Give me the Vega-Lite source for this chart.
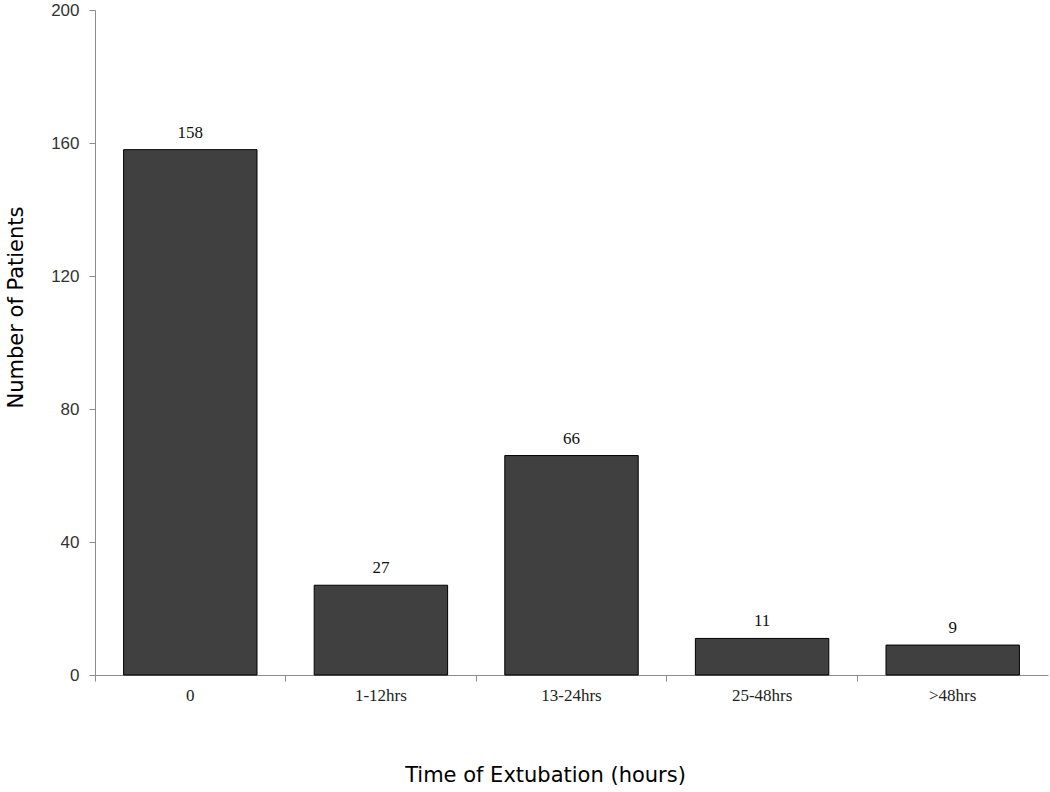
{
  "$schema": "https://vega.github.io/schema/vega-lite/v6.json",
  "width": 953,
  "height": 665,
  "autosize": {"type": "none"},
  "padding": {"left": 95, "top": 10, "right": 2, "bottom": 117},
  "background": "white",
  "config": {"view": {"stroke": null}},
  "data": {"values": [
    {"time": "0", "patients": 158},
    {"time": "1-12hrs", "patients": 27},
    {"time": "13-24hrs", "patients": 66},
    {"time": "25-48hrs", "patients": 11},
    {"time": ">48hrs", "patients": 9}
  ]},
  "encoding": {
    "x": {
      "field": "time", "type": "nominal", "sort": null,
      "scale": {"paddingInner": 0, "paddingOuter": 0},
      "axis": {
        "title": "Time of Extubation (hours)",
        "labelAngle": 0,
        "labelFont": "Liberation Serif", "labelFontSize": 17, "labelColor": "#222", "labelPadding": 6,
        "bandPosition": 0,
        "domainColor": "#8c8c8c", "tickColor": "#8c8c8c", "tickSize": 6,
        "titleFont": "DejaVu Sans", "titleFontSize": 21, "titleFontWeight": "normal", "titleColor": "#000",
        "titleX": 450, "titleY": 100, "titleBaseline": "middle", "titleAnchor": null, "titleAlign": "center"
      }
    },
    "y": {
      "field": "patients", "type": "quantitative",
      "scale": {"domain": [0, 200], "nice": false},
      "axis": {
        "title": "Number of Patients",
        "values": [0, 40, 80, 120, 160, 200],
        "grid": false,
        "labelFont": "Liberation Sans", "labelFontSize": 17, "labelColor": "#333", "labelPadding": 10,
        "domainColor": "#8c8c8c", "tickColor": "#8c8c8c", "tickSize": 6,
        "titleFont": "DejaVu Sans", "titleFontSize": 21, "titleFontWeight": "normal", "titleColor": "#000",
        "titleX": -79, "titleY": 297, "titleBaseline": "middle", "titleAlign": "center"
      }
    }
  },
  "layer": [
    {
      "mark": {"type": "bar", "width": {"band": 0.7}, "fill": "#404040", "stroke": "#000", "strokeWidth": 1}
    },
    {
      "mark": {"type": "text", "baseline": "bottom", "dy": -8, "font": "Liberation Serif", "fontSize": 17, "color": "#111"},
      "encoding": {"text": {"field": "patients", "type": "quantitative"}}
    }
  ]
}
